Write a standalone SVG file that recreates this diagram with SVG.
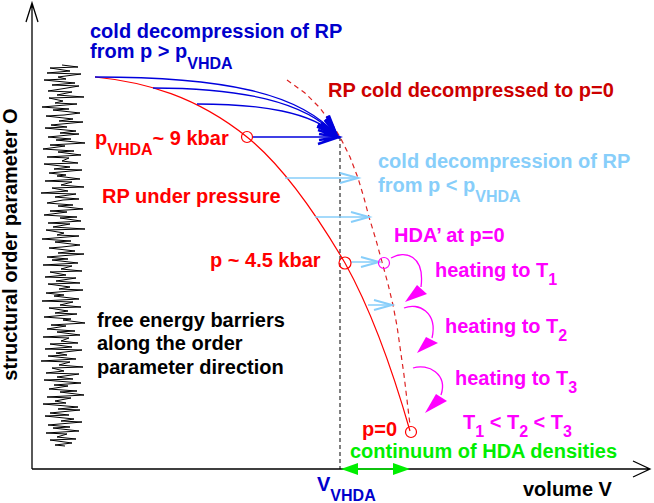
<svg xmlns="http://www.w3.org/2000/svg" width="654" height="503" viewBox="0 0 654 503">
<style>
text{font-family:"Liberation Sans",Arial,Helvetica,sans-serif;font-weight:bold;font-size:20px}
.sub{font-size:16px}
.blue{fill:#0000cc}
.red{fill:#ff0000}
.dred{fill:#cc0000}
.lb{fill:#87cefa}
.mag{fill:#ff00ff}
.grn{fill:#00ee00}
.blk{fill:#000}
.axis{stroke:#000;stroke-width:1.3;fill:none}
.bl{stroke:#0000dd;stroke-width:1.3;fill:none;marker-end:url(#bh)}
.lbl{stroke:#87cefa;stroke-width:1.5;fill:none;marker-end:url(#lh)}
.marc{stroke:#ff00ff;stroke-width:1.3;fill:none}
</style>
<defs>
<marker id="bh" markerUnits="userSpaceOnUse" markerWidth="30" markerHeight="30" refX="0" refY="0" orient="auto" overflow="visible">
<path d="M-21,-7 L0,0 L-21,7 M-20,-3 L0,0 L-20,3" fill="none" stroke="#0000dd" stroke-width="2.5"/>
</marker>
<marker id="lh" markerUnits="userSpaceOnUse" markerWidth="30" markerHeight="30" refX="0" refY="0" orient="auto" overflow="visible">
<path d="M-18,-5 L0,0 L-18,5" fill="none" stroke="#87cefa" stroke-width="2"/>
</marker>
</defs>

<g id="axes">
<path class="axis" d="M32,469 V3 M26,22 L32,3 L38,22"/>
<path class="axis" d="M32,469 H650 M633,461 L650,469 L633,477"/>
<text class="blk" transform="translate(17,244.5) rotate(-90)" text-anchor="middle">structural order parameter O</text>
<text class="blk" x="523" y="496">volume V</text>
<text class="blue" x="317" y="491">V<tspan class="sub" dy="10">VHDA</tspan></text>
</g>

<g id="noise">
<polyline fill="none" stroke="#000" stroke-width="1" points="62,65 78,67 50,68 70,71 47,73 81,74 58,77 66,79 44,80 75,83 52,85 79,86 61,89 48,91 72,92 57,95 84,97 49,98 63,101 55,103 77,104 42,107 69,109 53,110 80,113 64,115 46,116 73,119 59,121 83,122 51,125 67,127 45,128 76,131 60,133 79,134 48,137 71,139 56,140 85,143 50,145 65,146 43,149 74,151 58,152 81,155 47,157 69,158 62,161 78,163 44,164 70,167 54,169 82,170 49,173 66,175 57,176 80,179 45,181 72,182 61,185 84,187 52,188 68,191 41,193 76,194 55,197 79,199 63,200 47,203 73,205 58,206 83,209 50,211 67,212 44,215 77,217 60,218 81,221 48,223 70,224 53,227 85,229 46,230 64,233 57,235 79,236 42,239 71,241 55,242 80,245 62,247 49,248 75,251 58,253 84,254 47,257 68,259 52,260 78,263 43,265 72,266 61,269 82,271 50,272 66,275 45,277 76,278 56,281 80,283 48,284 70,287 59,289 83,290 46,293 64,295 54,296 79,299 42,301 73,302 60,305 81,307 49,308 68,311 55,313 77,314 44,317 71,319 63,320 85,323 51,325 66,326 47,329 75,331 57,332 80,335 43,337 69,338 61,341 78,343 50,344 72,347 45,349 82,350 56,353 67,355 48,356 76,359 41,361 70,362 59,365 83,367 52,368 64,371 46,373 79,374 57,377 73,379 44,380 81,383 54,385 68,386 49,389 77,391 60,392 84,395 47,397 71,398 55,401 66,403 43,404 78,407 58,409 80,410 50,413 69,415 45,416 74,419 61,421 82,422 48,425 70,427 53,428 79,431 46,433 67,434 57,437 76,439 50,440 72,443 55,445 65,446"/>
</g>

<g id="curves">
<path d="M95,77 C145.7,82 196.3,96.4 247,137 C279.7,163.2 312.3,207.4 345,263 C366.7,302 388.3,355 410,431" fill="none" stroke="#ff0000" stroke-width="1.2"/>
<polyline points="287,80 305,93 320,108 332,124 340,137 350,157 358,178 364,198 369,217 376,240 382,262 388,284 393,305 397,326 400,347 404,375 407,400 410,425" fill="none" stroke="#dd2222" stroke-width="1.2" stroke-dasharray="5,4"/>
<line x1="340" y1="137" x2="340" y2="469" stroke="#000" stroke-width="1" stroke-dasharray="4,3"/>
</g>

<g id="connectors">
<path class="bl" d="M95,77 C220,77 300,92 337,136"/>
<path class="bl" d="M153,88 C240,88 305,101 337,136"/>
<path class="bl" d="M197,104 C262,104 312,112 337,136"/>
<path class="bl" d="M253,137 H339"/>
<path class="lbl" d="M285,178 H358"/>
<path class="lbl" d="M315,217 H369"/>
<path class="lbl" d="M351,262 H379"/>
<path class="lbl" d="M368,305 H392"/>
<path class="marc" d="M391,258 C405,250 425,255 421,287"/>
<polygon points="417,285 427,294 405,302" fill="#ff00ff"/>
<path class="marc" d="M404,308 C418,302 438,312 432,338"/>
<polygon points="426,337 438,343 417,353" fill="#ff00ff"/>
<path class="marc" d="M413,368 C428,363 448,374 441,395"/>
<polygon points="436,394 447,401 425,413" fill="#ff00ff"/>
<line x1="354" y1="469" x2="394" y2="469" stroke="#00ee00" stroke-width="1.5"/>
<polygon points="341,469 358,463 358,475" fill="#00ee00"/>
<polygon points="410,469 393,463 393,475" fill="#00ee00"/>
</g>

<g id="markers">
<circle cx="247" cy="137" r="5.5" fill="none" stroke="#ff0000" stroke-width="1.2"/>
<circle cx="345" cy="263" r="6" fill="none" stroke="#ff0000" stroke-width="1.2"/>
<circle cx="384" cy="263" r="5.5" fill="none" stroke="#ff00ff" stroke-width="1.2"/>
<circle cx="411" cy="432" r="5.5" fill="none" stroke="#ff0000" stroke-width="1.2"/>
</g>

<g id="labels">
<text class="blue" x="90" y="38">cold decompression of RP</text>
<text class="blue" x="90" y="58">from p &gt; p<tspan class="sub" dy="11">VHDA</tspan></text>
<text class="dred" x="328" y="97">RP cold decompressed to p=0</text>
<text class="red" x="95" y="145">p<tspan class="sub" dy="10">VHDA</tspan><tspan dy="-10">~ 9 kbar</tspan></text>
<text class="red" x="102" y="203">RP under pressure</text>
<text class="red" x="210" y="267">p ~ 4.5 kbar</text>
<text class="lb" x="378" y="168">cold decompression of RP</text>
<text class="lb" x="378" y="192">from p &lt; p<tspan class="sub" dy="10">VHDA</tspan></text>
<text class="mag" x="394" y="242">HDA’ at p=0</text>
<text class="mag" x="435" y="277">heating to T<tspan class="sub" dy="8">1</tspan></text>
<text class="mag" x="445" y="333">heating to T<tspan class="sub" dy="8">2</tspan></text>
<text class="mag" x="455" y="385">heating to T<tspan class="sub" dy="8">3</tspan></text>
<text class="mag" x="463" y="429">T<tspan class="sub" dy="8">1</tspan><tspan dy="-8"> &lt; T</tspan><tspan class="sub" dy="8">2</tspan><tspan dy="-8"> &lt; T</tspan><tspan class="sub" dy="8">3</tspan></text>
<text class="red" x="362" y="436">p=0</text>
<text class="grn" x="350" y="458">continuum of HDA densities</text>
<text class="blk" x="97" y="327">free energy barriers</text>
<text class="blk" x="97" y="350">along the order</text>
<text class="blk" x="97" y="374">parameter direction</text>
</g>
</svg>
